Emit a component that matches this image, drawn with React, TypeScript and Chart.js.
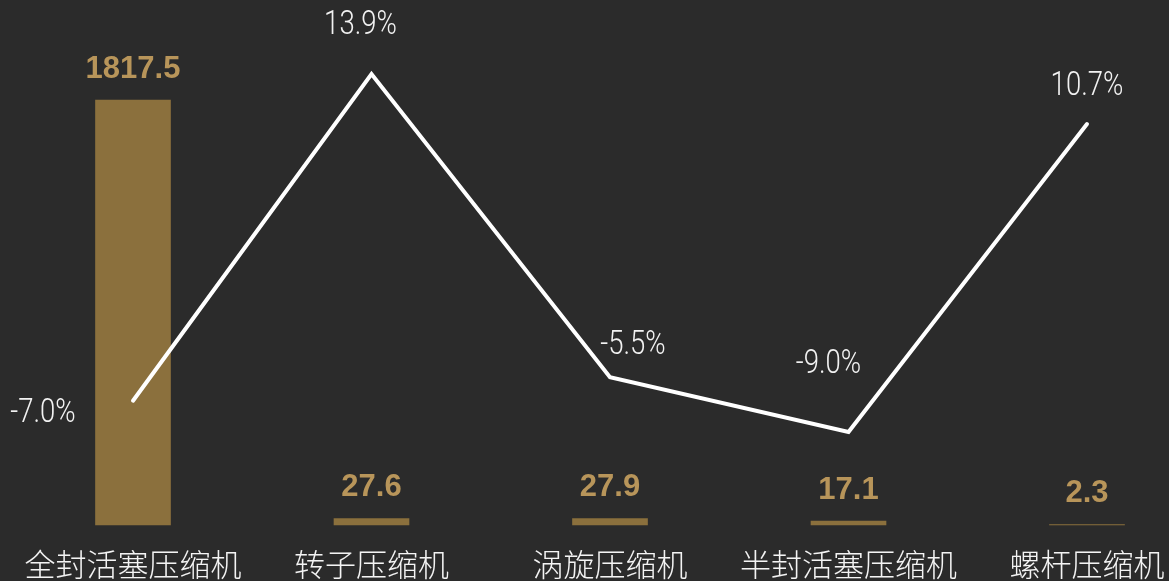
import React, { useEffect, useRef } from "react";
import { Chart, registerables } from "chart.js";

Chart.register(...registerables);

const categories = ["全封活塞压缩机", "转子压缩机", "涡旋压缩机", "半封活塞压缩机", "螺杆压缩机"];
const barValues = [1817.5, 27.6, 27.9, 17.1, 2.3];
const growthValues = [-7.0, 13.9, -5.5, -9.0, 10.7];

// label placement (layout only): offset of percent label centre from its point
const growthLabelOffsets: [number, number][] = [
  [-90, 13],
  [-11, -49],
  [23, -32],
  [-20, -67],
  [0, -38],
];

const BG = "#2b2b2b";
const BAR_COLOR = "#8b703d";
const BAR_LABEL_COLOR = "#b8955a";
const LINE_COLOR = "#ffffff";

const labelPlugin = {
  id: "customLabels",
  afterDatasetsDraw(chart: any) {
    const ctx = chart.ctx;
    const xScale = chart.scales.x;
    ctx.save();
    ctx.textAlign = "center";
    ctx.textBaseline = "middle";
    // bar value labels
    const barMeta = chart.getDatasetMeta(0);
    ctx.fillStyle = BAR_LABEL_COLOR;
    ctx.font = "bold 31px 'Liberation Sans', Arial, sans-serif";
    barMeta.data.forEach((el: any, i: number) => {
      ctx.fillText(barValues[i].toFixed(1), el.x, el.y - 31);
    });
    // growth labels (narrow, light)
    const lineMeta = chart.getDatasetMeta(1);
    ctx.fillStyle = "#f2f2f2";
    ctx.font = "300 34px Roboto, sans-serif";
    const sx = 0.81;
    lineMeta.data.forEach((el: any, i: number) => {
      const [dx, dy] = growthLabelOffsets[i];
      ctx.save();
      ctx.translate(el.x + dx, el.y + dy);
      ctx.scale(sx, 1);
      ctx.fillText(growthValues[i].toFixed(1) + "%", 0, 0);
      ctx.restore();
    });
    // category labels
    ctx.fillStyle = "#f4f4f4";
    ctx.font = "300 31px 'Noto Sans CJK SC', sans-serif";
    categories.forEach((c, i) => {
      ctx.fillText(c, xScale.getPixelForValue(i), 564);
    });
    ctx.restore();
  },
};

export default function App() {
  const ref = useRef<HTMLCanvasElement | null>(null);
  useEffect(() => {
    if (!ref.current) return;
    const chart = new Chart(ref.current, {
      type: "bar",
      data: {
        labels: categories,
        datasets: [
          {
            type: "bar",
            data: barValues,
            backgroundColor: BAR_COLOR,
            borderWidth: 0,
            barThickness: 75,
            yAxisID: "y",
            order: 2,
            clip: false,
          } as any,
          {
            type: "line",
            data: growthValues,
            borderColor: LINE_COLOR,
            borderWidth: 4,
            borderCapStyle: "round",
            borderJoinStyle: "miter",
            pointRadius: 0,
            tension: 0,
            fill: false,
            yAxisID: "y2",
            order: 1,
            clip: false,
          } as any,
        ],
      },
      options: {
        responsive: false,
        animation: false,
        layout: { padding: { left: 133, right: 82, top: 40, bottom: 56 } },
        plugins: { legend: { display: false }, tooltip: { enabled: false } },
        scales: {
          x: { display: false, offset: false, grid: { display: false } },
          y: { display: false, min: 0, max: 2074 },
          y2: { display: false, min: -14.95, max: 16.075, position: "right" },
        },
      },
      plugins: [labelPlugin],
    });
    return () => chart.destroy();
  }, []);
  return (
    <div style={{ position: "fixed", left: 0, top: 0, width: 1169, height: 581, background: BG }}>
      <canvas ref={ref} width={1169} height={581} style={{ display: "block" }} />
    </div>
  );
}
